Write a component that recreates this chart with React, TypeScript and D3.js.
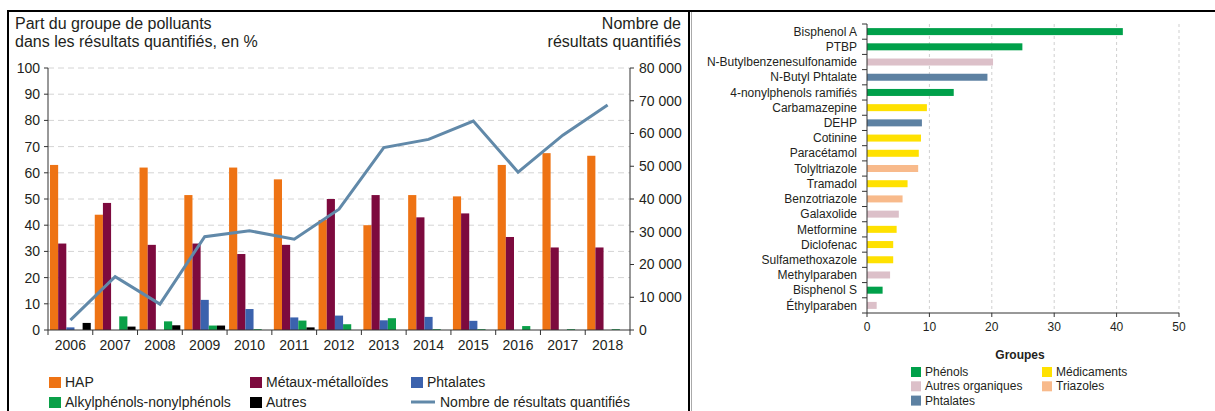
import React from 'react';
import * as d3 from 'd3';

const years = ['2006', '2007', '2008', '2009', '2010', '2011', '2012', '2013', '2014', '2015', '2016', '2017', '2018'];
const hap = [63, 44, 62, 51.5, 62, 57.5, 42, 40, 51.5, 51, 63, 67.5, 66.5];
const metaux = [33, 48.5, 32.5, 33, 29, 32.5, 50, 51.5, 43, 44.5, 35.5, 31.5, 31.5];
const phtalates = [1, 0, 0, 11.5, 8, 4.8, 5.5, 3.7, 5, 3.5, 0, 0, 0];
const alkyl = [0, 5.2, 3.3, 1.7, 0.3, 3.6, 2.2, 4.5, 0.3, 0.3, 1.5, 0.3, 0.3];
const autres = [2.7, 1.3, 1.8, 1.7, 0, 1, 0, 0, 0, 0, 0, 0, 0];
const nbResultats = [3000, 16300, 7900, 28500, 30300, 27700, 36900, 55700, 58200, 63800, 48200, 59500, 68700];

const seriesNames = ['HAP', 'Métaux-métalloïdes', 'Phtalates', 'Alkylphénols-nonylphénols', 'Autres'];
const seriesColors = ['#ee7314', '#7d0a3e', '#3b62ad', '#0aa048', '#000000'];
const pctTicks = [0, 10, 20, 30, 40, 50, 60, 70, 80, 90, 100];
const countTicks = [0, 10000, 20000, 30000, 40000, 50000, 60000, 70000, 80000];

const substances = ['Bisphenol A', 'PTBP', 'N-Butylbenzenesulfonamide', 'N-Butyl Phtalate', '4-nonylphenols ramifiés',
  'Carbamazepine', 'DEHP', 'Cotinine', 'Paracétamol', 'Tolyltriazole', 'Tramadol', 'Benzotriazole', 'Galaxolide',
  'Metformine', 'Diclofenac', 'Sulfamethoxazole', 'Methylparaben', 'Bisphenol S', 'Éthylparaben'];
const substanceValues = [41, 24.9, 20.2, 19.3, 13.9, 9.6, 8.8, 8.65, 8.3, 8.2, 6.5, 5.7, 5.1, 4.75, 4.2, 4.2, 3.7, 2.5, 1.55];
const substanceGroups = ['Phénols', 'Phénols', 'Autres organiques', 'Phtalates', 'Phénols', 'Médicaments', 'Phtalates',
  'Médicaments', 'Médicaments', 'Triazoles', 'Médicaments', 'Triazoles', 'Autres organiques', 'Médicaments',
  'Médicaments', 'Médicaments', 'Autres organiques', 'Phénols', 'Autres organiques'];
const groupNames = ['Phénols', 'Médicaments', 'Autres organiques', 'Triazoles', 'Phtalates'];
const groupColors = ['#00a04a', '#ffe100', '#dcc0c9', '#f8ba8b', '#5d81a2'];
const pctTicks2 = [0, 10, 20, 30, 40, 50];

const FONT = '"Liberation Sans", Arial, sans-serif';
const TXT = '#231f20';
const LINE = '#6189a9';

export default function App() {
  // left chart scales
  const x = d3.scaleBand<string>().domain(years).range([48, 630]);
  const inner = d3.scaleBand<number>().domain(d3.range(5)).range([2, x.bandwidth() - 2]);
  const y = d3.scaleLinear().domain([0, 100]).range([330, 68]);
  const y2 = d3.scaleLinear().domain([0, 80000]).range([330, 68]);
  const allSeries = [hap, metaux, phtalates, alkyl, autres];
  const line = d3.line<number>()
    .x((d, i) => (x(years[i]) as number) + x.bandwidth() / 2)
    .y(d => y2(d));
  const fmt = (v: number) => d3.format(',')(v).replace(/,/g, ' ');

  // right chart scales
  const xr = d3.scaleLinear().domain([0, 50]).range([867, 1179]);
  const yr = d3.scaleBand<string>().domain(substances).range([24, 313]);
  const groupColor = d3.scaleOrdinal<string, string>().domain(groupNames).range(groupColors);

  return (
    <svg width={1215} height={411} style={{ position: 'absolute', left: 0, top: 0, background: '#fff' }}
      fontFamily={FONT}>
      {/* frame */}
      <line x1={8} x2={1215} y1={11} y2={11} stroke="#000" strokeWidth={2} />
      <line x1={8} x2={8} y1={10} y2={411} stroke="#000" strokeWidth={2} />
      <line x1={689} x2={689} y1={10} y2={411} stroke="#000" strokeWidth={2} />
      <line x1={691.5} x2={691.5} y1={12} y2={411} stroke="#aaa" strokeWidth={1} />

      {/* left titles */}
      <text x={15} y={29} fontSize={16} fill={TXT}>Part du groupe de polluants</text>
      <text x={15} y={47} fontSize={16} fill={TXT}>dans les résultats quantifiés, en %</text>
      <text x={681} y={29} fontSize={16} fill={TXT} textAnchor="end">Nombre de</text>
      <text x={681} y={47} fontSize={16} fill={TXT} textAnchor="end">résultats quantifiés</text>

      {/* grid */}
      {pctTicks.filter(t => t > 0).map(t => (
        <line key={t} x1={48} x2={630} y1={y(t)} y2={y(t)} stroke="#d4d4d4" strokeDasharray="6,4" />
      ))}

      {/* bars */}
      {allSeries.map((s, si) => s.map((v, i) => (
        <rect key={si + '-' + i} x={(x(years[i]) as number) + (inner(si) as number)} width={inner.bandwidth()}
          y={y(v)} height={330 - y(v)} fill={seriesColors[si]} />
      )))}

      {/* line */}
      <path d={line(nbResultats) || ''} fill="none" stroke={LINE} strokeWidth={3} />

      {/* axes */}
      <line x1={48} x2={48} y1={68} y2={330} stroke="#333" />
      <line x1={630} x2={630} y1={68} y2={330} stroke="#333" />
      <line x1={48} x2={630} y1={330} y2={330} stroke="#333" />
      {pctTicks.map(t => (
        <g key={t}>
          <line x1={44} x2={48} y1={y(t)} y2={y(t)} stroke="#333" />
          <text x={40} y={y(t)} dy="0.35em" fontSize={14} textAnchor="end" fill={TXT}>{t}</text>
        </g>
      ))}
      {countTicks.map(t => (
        <g key={t}>
          <line x1={630} x2={634} y1={y2(t)} y2={y2(t)} stroke="#333" />
          <text x={639} y={y2(t)} dy="0.35em" fontSize={14} fill={TXT}>{fmt(t)}</text>
        </g>
      ))}
      {years.map((yr_, i) => (
        <g key={yr_}>
          <line x1={x(yr_) as number} x2={x(yr_) as number} y1={330} y2={335} stroke="#333" />
          <text x={(x(yr_) as number) + x.bandwidth() / 2} y={350} fontSize={14} textAnchor="middle" fill={TXT}>{yr_}</text>
          {i === years.length - 1 && <line x1={630} x2={630} y1={330} y2={335} stroke="#333" />}
        </g>
      ))}

      {/* left legend */}
      {[[0, 49, 377], [1, 250, 377], [2, 411, 377], [3, 49, 397], [4, 250, 397]].map(([si, lx, ly]) => (
        <g key={si}>
          <rect x={lx} y={ly} width={12} height={11} fill={seriesColors[si]} />
          <text x={lx + 16} y={ly + 10} fontSize={14} fill={TXT}>{seriesNames[si]}</text>
        </g>
      ))}
      <line x1={411} x2={435} y1={402} y2={402} stroke={LINE} strokeWidth={3} />
      <text x={440} y={407} fontSize={14} fill={TXT}>Nombre de résultats quantifiés</text>

      {/* right chart grid */}
      {pctTicks2.filter(t => t > 0).map(t => (
        <line key={t} x1={xr(t)} x2={xr(t)} y1={24} y2={313} stroke="#cfcfcf" strokeDasharray="3,3" />
      ))}
      {substances.map((s, i) => (
        <g key={s}>
          <rect x={xr(0)} y={(yr(s) as number) + yr.bandwidth() / 2 - 3.5} width={xr(substanceValues[i]) - xr(0)}
            height={7} fill={groupColor(substanceGroups[i])} />
          <text x={857} y={(yr(s) as number) + yr.bandwidth() / 2} dy="0.35em" fontSize={12} textAnchor="end" fill={TXT}>{s}</text>
          <line x1={862} x2={867} y1={yr(s) as number} y2={yr(s) as number} stroke="#333" />
        </g>
      ))}
      <line x1={867} x2={867} y1={24} y2={313} stroke="#333" />
      <line x1={862} x2={867} y1={313} y2={313} stroke="#333" />
      <line x1={867} x2={1179} y1={313} y2={313} stroke="#333" />
      {pctTicks2.map(t => (
        <g key={t}>
          <line x1={xr(t)} x2={xr(t)} y1={313} y2={317} stroke="#333" />
          <text x={xr(t)} y={331} fontSize={12} textAnchor="middle" fill={TXT}>{t}</text>
        </g>
      ))}

      {/* right legend */}
      <text x={1020} y={359} fontSize={12} fontWeight="bold" textAnchor="middle" fill={TXT}>Groupes</text>
      {groupNames.map((g, i) => {
        const lx = i % 2 === 0 ? 911 : 1042;
        const ly = 367 + Math.floor(i / 2) * 14.3;
        return (
          <g key={g}>
            <rect x={lx} y={ly} width={10} height={10} fill={groupColors[i]} />
            <text x={lx + 14} y={ly + 9} fontSize={12} fill={TXT}>{g}</text>
          </g>
        );
      })}
    </svg>
  );
}
